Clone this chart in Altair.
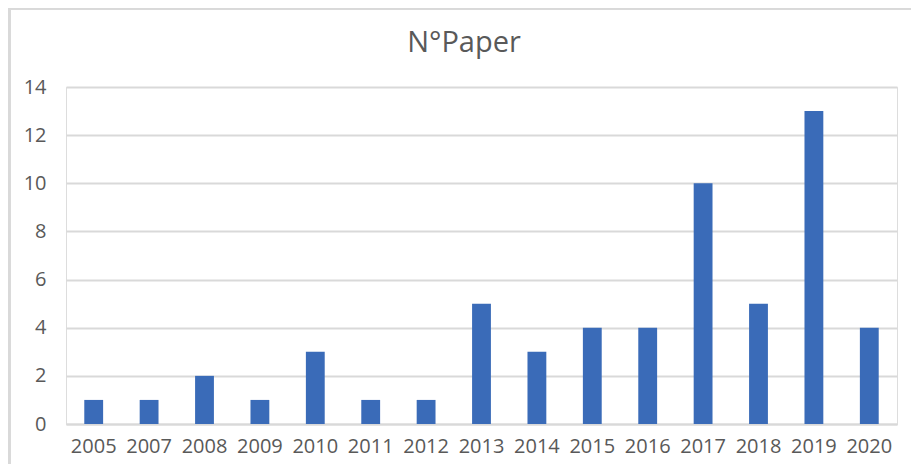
import altair as alt
import pandas as pd

years = ["2005", "2007", "2008", "2009", "2010", "2011", "2012", "2013",
         "2014", "2015", "2016", "2017", "2018", "2019", "2020"]
papers = [1, 1, 2, 1, 3, 1, 1, 5, 3, 4, 4, 10, 5, 13, 4]
title_text = ["N°Paper"]

df = pd.DataFrame({"year": years, "papers": papers})
tdf = pd.DataFrame({"t": title_text})

FONT = "Open Sans"
GRAY = "#595959"

bars = alt.Chart(df).mark_bar(color="#3A6BB8").encode(
    x=alt.X("year:N", sort=years,
            scale=alt.Scale(paddingInner=0.66, paddingOuter=0.33),
            axis=alt.Axis(title=None, labelAngle=0, labelFont=FONT, labelFontSize=20,
                          labelColor=GRAY, ticks=False, domain=True, domainColor="#D9D9D9",
                          domainWidth=2, labelPadding=12)),
    y=alt.Y("papers:Q", scale=alt.Scale(domain=[0, 14], nice=False),
            axis=alt.Axis(title=None, values=[0, 2, 4, 6, 8, 10, 12, 14], labelFont=FONT,
                          labelFontSize=20, labelColor=GRAY, ticks=False, domain=False,
                          gridColor="#D9D9D9", gridWidth=2, labelPadding=20)),
)

title = alt.Chart(tdf).mark_text(font=FONT, fontSize=29, color=GRAY, align="center",
                                 baseline="alphabetic").encode(
    text="t:N", x=alt.value(398), y=alt.value(-35)
)

border_top = alt.Chart(df).mark_rule(color="#D9D9D9", strokeWidth=3).encode(
    x=alt.value(-58), x2=alt.value(860), y=alt.value(-79)
)
border_left = alt.Chart(df).mark_rule(color="#D9D9D9", strokeWidth=3).encode(
    x=alt.value(-57), y=alt.value(-79), y2=alt.value(390)
)

chart = alt.layer(bars, title, border_top, border_left).properties(
    width=831,
    height=337,
    autosize=alt.AutoSizeParams(type="none"),
    padding={"left": 58, "top": 79, "right": 14, "bottom": 40},
).configure_view(stroke=None).configure(background="white")

chart.save("out.html", embed_options={"renderer": "svg", "actions": False})
